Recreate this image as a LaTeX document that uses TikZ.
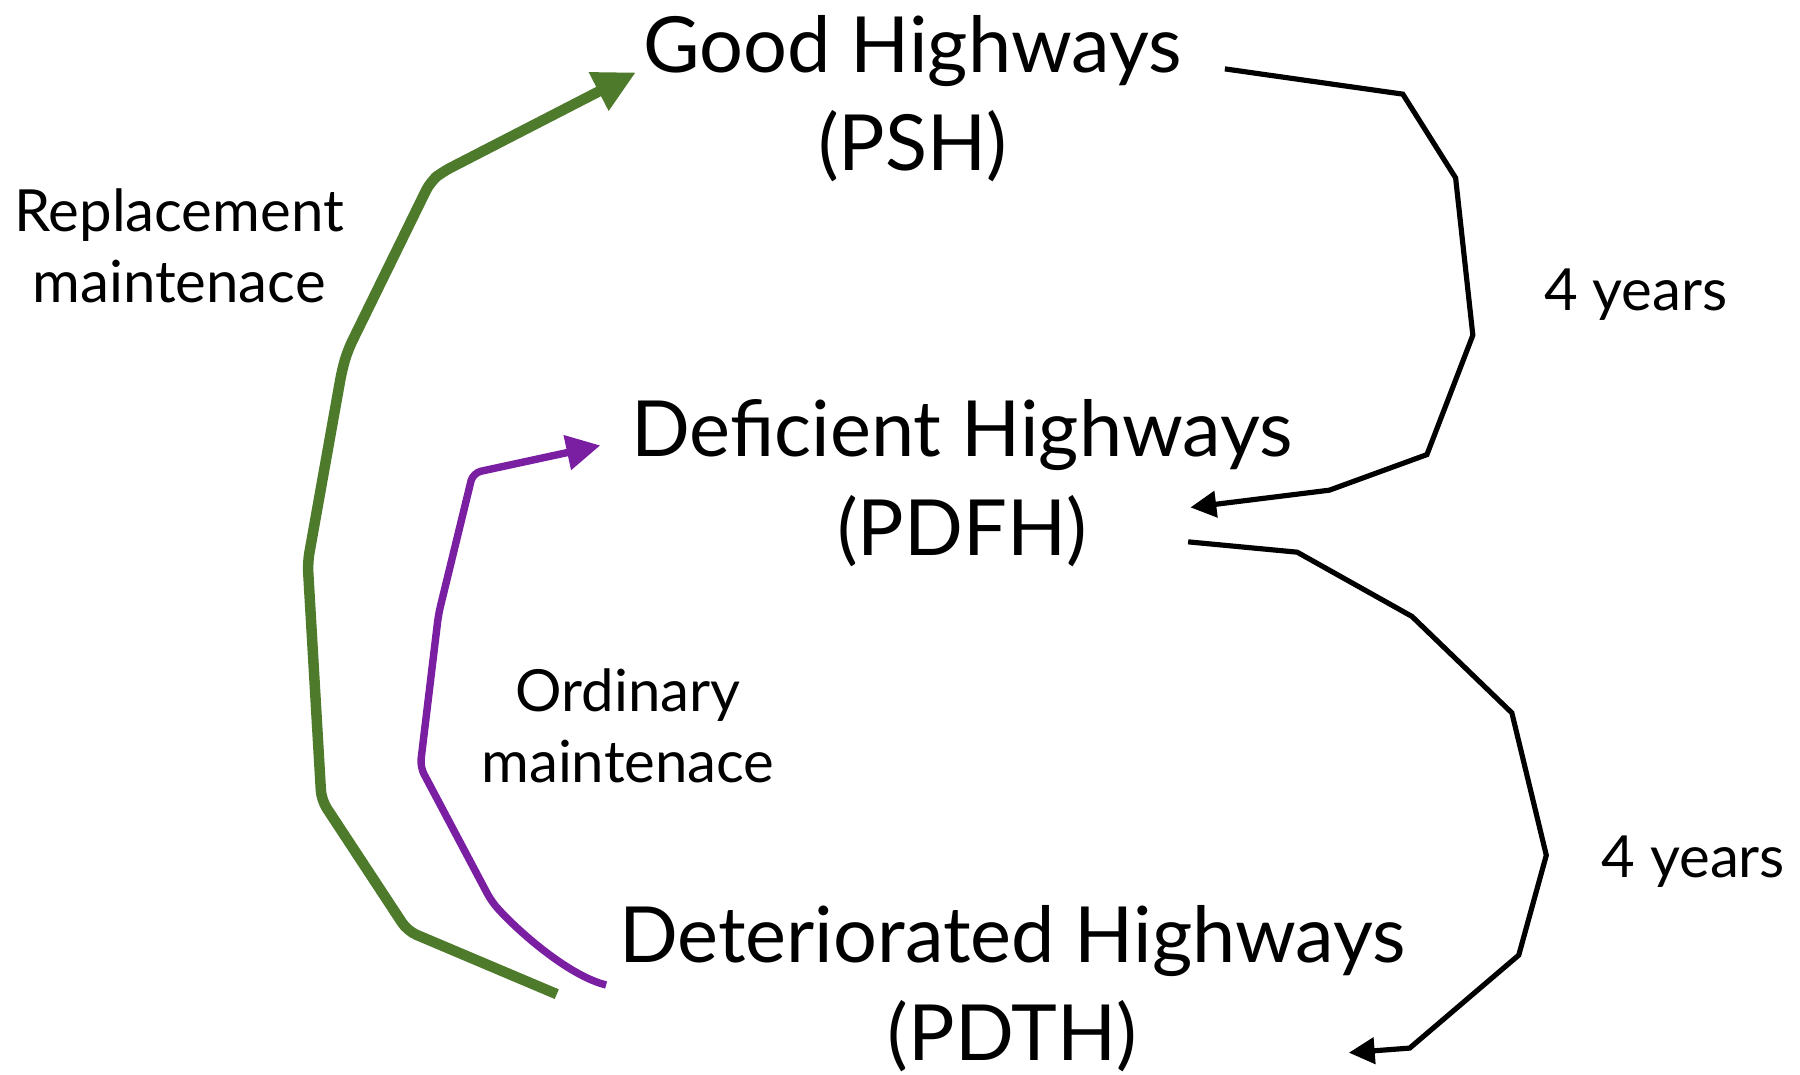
\documentclass[tikz,border=0pt]{standalone}
\usepackage{fontspec}
\setmainfont{Lato}
\usetikzlibrary{arrows.meta}
\definecolor{repgreen}{RGB}{78,122,43}
\definecolor{ordpurple}{RGB}{122,31,162}
\begin{document}
\begin{tikzpicture}[x=0.025cm,y=-0.025cm,
  heading/.style={align=center,font=\fontsize{48}{61}\selectfont,inner sep=0pt},
  lbl/.style={align=center,font=\fontsize{36}{44}\selectfont,inner sep=0pt},
  greenarrow/.style={draw=repgreen,line width=6.5pt,rounded corners=6pt,-{Triangle[length=26pt,width=25pt]}},
  purplearrow/.style={draw=ordpurple,line width=4.6pt,rounded corners=5pt,-{Triangle[length=21pt,width=21pt]}},
  blackarrow/.style={draw=black,line width=3.2pt,-{Triangle[length=16pt,width=16pt]}}]
\useasboundingbox (0,0) rectangle (1568,936);
\node[heading] (psh) at (795,86) {Good Highways\\(PSH)};
\node[heading] (pdfh) at (838,421) {Deficient Highways\\(PDFH)};
\node[heading] (pdth) at (882,861) {Deteriorated Highways\\(PDTH)};
\node[lbl] (rep) at (156,214) {Replacement\\maintenace};
\node[lbl] (ord) at (547,632) {Ordinary\\maintenace};
\node[lbl] (y1) at (1425,257) {4 years};
\node[lbl] (y2) at (1475,751) {4 years};
% connector end points
\coordinate (g0) at (485,866);
\coordinate (g1) at (554,63);
\coordinate (p0) at (528,858);
\coordinate (p1) at (523,388);
\coordinate (b0) at (1067,60);
\coordinate (b1) at (1037,442);
\coordinate (c0) at (1035,472);
\coordinate (c1) at (1175,917);
\draw[greenarrow] (g0) -- (355,811) -- (280,697) -- (268,490) -- (298,322) -- (303,305) -- (375,158) -- (385,150) -- (g1);
\draw[purplearrow] (p0) .. controls (495,850) and (450,810) .. (428,785) -- (366,668) -- (382,535) -- (412,412) -- (p1);
\draw[blackarrow] (b0) -- (1222,82) -- (1268,155) -- (1283,292) -- (1243,396) -- (1158,427) -- (b1);
\draw[blackarrow] (c0) -- (1130,481) -- (1230,537) -- (1317,621) -- (1347,745) -- (1323,832) -- (1228,913) -- (c1);
\end{tikzpicture}
\end{document}
